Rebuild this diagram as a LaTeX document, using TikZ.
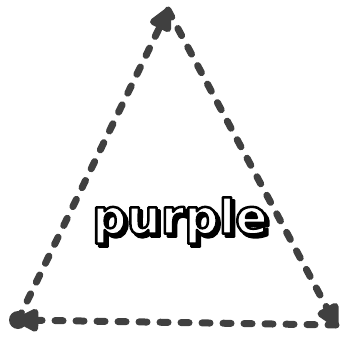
\documentclass[tikz,border=0pt]{standalone}
\usepackage{fontspec}
\setmainfont{Liberation Sans}
\newfontfamily\lblfont{DejaVu Sans}
\usetikzlibrary{arrows.meta}
\definecolor{edge}{HTML}{404040}
\newcommand{\outlinetext}[2]{\special{pdf:literal direct 2 Tr #1 w 1 j 0 0 0 RG}#2\special{pdf:literal direct 0 Tr}}
\begin{document}
\begin{tikzpicture}[x=1pt,y=-1pt,
  seg/.style={draw=edge,line width=7pt,line cap=round,dash pattern=on 8pt off 13pt,
    -{Triangle[length=27pt,width=25pt,round]}, shorten >=-2pt},
  lbl/.style={font=\lblfont\fontsize{48}{48}\selectfont\bfseries}]
\useasboundingbox (0,0) rectangle (343,345);
\coordinate (a) at (18,320);
\coordinate (b) at (168,10);
\coordinate (c) at (336,325);
\draw[seg] (a) -- (b);
\draw[seg] (b) -- (c);
\draw[seg] (c) -- (a);
\fill[edge] (a) circle (9pt);
\node[lbl] (t) at (180,222) {\makebox[0pt][l]{\hspace{3pt}\raisebox{-3pt}{\outlinetext{2.5}{purple}}}\textcolor{white}{\outlinetext{2.5}{purple}}};
\end{tikzpicture}
\end{document}
